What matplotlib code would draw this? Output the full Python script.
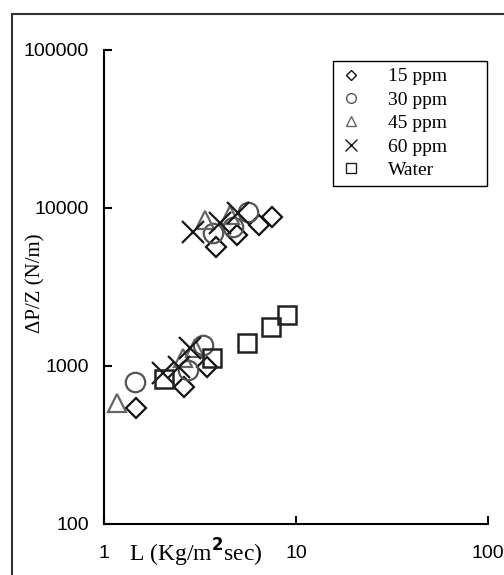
"""Pressure drop per unit height vs liquid flux, log-log scatter."""

import matplotlib.pyplot as plt
from matplotlib.patches import Rectangle

x_15 = [1.47, 2.61, 3.44, 3.83, 4.93, 6.42, 7.50]
y_15 = [542, 736, 986, 5665, 6745, 7800, 8770]

x_30 = [1.45, 2.74, 3.28, 3.70, 4.70, 5.62]
y_30 = [792, 943, 1358, 6950, 7580, 9500]

x_45 = [1.17, 2.58, 2.98, 3.36, 4.53]
y_45 = [583, 1124, 1300, 8400, 9030]

x_60 = [2.03, 2.46, 2.80, 2.91, 4.02, 4.99]
y_60 = [903, 986, 1300, 7050, 8040, 9300]

x_water = [2.05, 3.65, 5.55, 7.41, 8.98]
y_water = [828, 1124, 1398, 1765, 2103]

labels = ['15 ppm', '30 ppm', '45 ppm', '60 ppm', 'Water']

fig = plt.figure(figsize=(5.04, 5.75), dpi=100)
ax = fig.add_axes([104 / 504, 1 - 524 / 575, 384 / 504, 474 / 575])

ax.plot(x_15, y_15, ls='none', marker='D', ms=10, mfc='none', mec='#111111',
        mew=1.6, label=labels[0])
ax.plot(x_30, y_30, ls='none', marker='o', ms=14, mfc='none', mec='#555555',
        mew=1.6, label=labels[1])
ax.plot(x_45, y_45, ls='none', marker='^', ms=13.5, mfc='none', mec='#666666',
        mew=1.6, label=labels[2])
ax.plot(x_60, y_60, ls='none', marker='x', ms=16, mec='#1a1a1a',
        mew=1.6, label=labels[3])
ax.plot(x_water, y_water, ls='none', marker='s', ms=13.5, mfc='none', mec='#222222',
        mew=1.8, label=labels[4])

ax.set_xscale('log')
ax.set_yscale('log')
ax.set_xlim(1, 100)
ax.set_ylim(100, 100000)
ax.set_xticks([1, 10, 100])
ax.set_xticklabels(['1', '10', '100'])
ax.set_yticks([100, 1000, 10000, 100000])
ax.set_yticklabels(['100', '1000', '10000', '100000'])
ax.minorticks_off()
ax.spines['top'].set_visible(False)
ax.spines['right'].set_visible(False)
for s in ['left', 'bottom']:
    ax.spines[s].set_linewidth(1.5)
ax.tick_params(direction='in', length=6, width=1.5, labelsize=14)
ax.tick_params(axis='y', pad=11)
ax.tick_params(axis='x', pad=15)
for t in ax.get_xticklabels() + ax.get_yticklabels():
    t.set_fontfamily('Liberation Sans')

# axis titles sit among the tick labels, as in the original
fig.text(196 / 504, 1 - 553 / 575, 'L (Kg/m$^{\\mathbf{2}}$sec)', ha='center', va='center',
         fontsize=17, family='Liberation Serif')
fig.text(36 / 504, 1 - 283 / 575, '\u0394P/Z (N/m)', ha='center', va='center',
         rotation=90, fontsize=15, family='Liberation Serif')

leg = ax.legend(loc='upper left', bbox_to_anchor=(333 / 504, 1 - 61 / 575, 154 / 504, 0.0),
                bbox_transform=fig.transFigure, mode='expand', markerscale=0.5,
                frameon=True, fancybox=False, edgecolor='black', framealpha=1,
                prop={'family': 'Liberation Serif', 'size': 14},
                handlelength=1.2, handletextpad=1.3, labelspacing=0.3,
                borderpad=0.35, borderaxespad=0)
leg.get_frame().set_linewidth(1.0)
for h in leg.legend_handles:
    h.set_markeredgewidth(1.0)

# outer frame of the figure
fig.patches.append(Rectangle((12 / 504, -0.05), 1.0, 1 - 14 / 575 + 0.05,
                             transform=fig.transFigure, fill=False,
                             edgecolor='#333333', linewidth=1.5))

fig.savefig('out.png', dpi=100)
